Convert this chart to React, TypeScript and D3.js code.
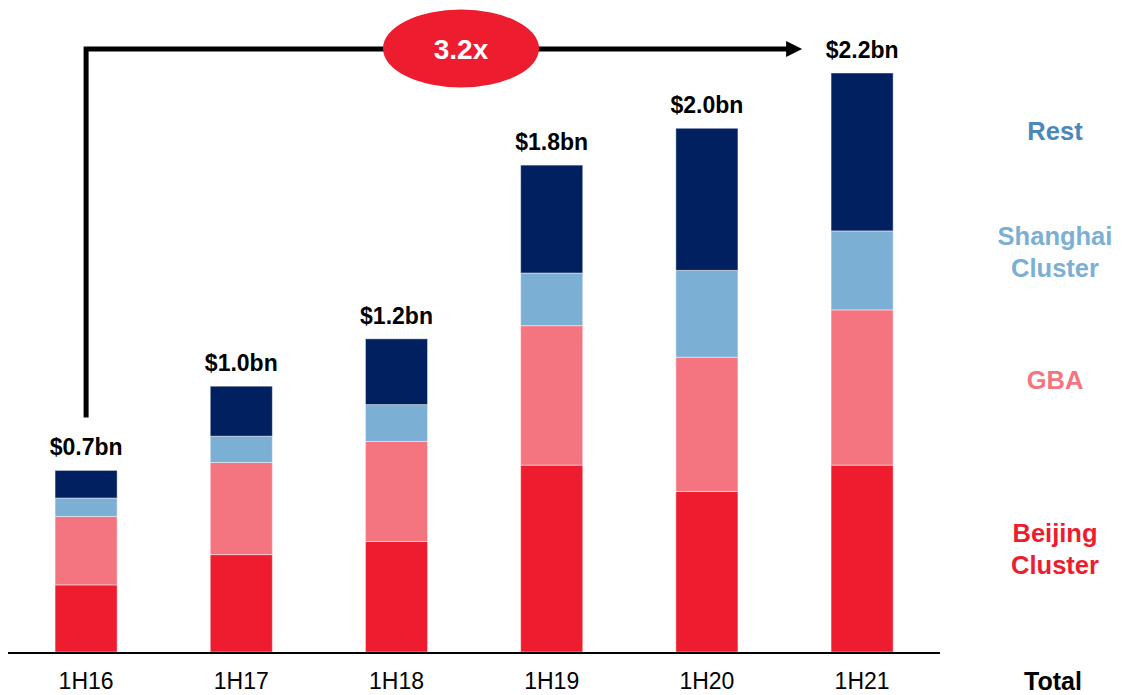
import React, { useEffect, useRef } from 'react';
import * as d3 from 'd3';

// half-year periods
const periods = ['1H16', '1H17', '1H18', '1H19', '1H20', '1H21'];

// segment values, $bn
const beijing = [0.255, 0.37, 0.42, 0.71, 0.61, 0.71];
const gba = [0.26, 0.35, 0.38, 0.53, 0.51, 0.59];
const shanghai = [0.07, 0.1, 0.14, 0.2, 0.33, 0.3];
const rest = [0.105, 0.19, 0.25, 0.41, 0.54, 0.6];

const totalLabels = ['$0.7bn', '$1.0bn', '$1.2bn', '$1.8bn', '$2.0bn', '$2.2bn'];
const growthLabel = '3.2x';

const seriesKeys = ['beijing', 'gba', 'shanghai', 'rest'];
const seriesColors = ['#ed1c2e', '#f47580', '#7bafd4', '#002060'];

const legendItems = [
    { lines: ['Rest'], color: '#4a88bb', y: 140 },
    { lines: ['Shanghai', 'Cluster'], color: '#7bafd4', y: 245 },
    { lines: ['GBA'], color: '#f47580', y: 389 },
    { lines: ['Beijing', 'Cluster'], color: '#ed1c2e', y: 542 },
];

const App = () => {
    const ref = useRef<SVGSVGElement>(null);

    useEffect(() => {
        const svg = d3.select(ref.current);
        svg.selectAll('*').remove();

        const font = '"Liberation Sans", Arial, sans-serif';
        const baseY = 652;

        const x = d3.scaleBand()
            .domain(periods)
            .range([8.5, 939.7])
            .paddingInner(0.6)
            .paddingOuter(0.3);

        const y = d3.scaleLinear()
            .domain([0, 2.2])
            .range([baseY, 73]);

        const table = periods.map((p, i) => ({
            period: p,
            beijing: beijing[i],
            gba: gba[i],
            shanghai: shanghai[i],
            rest: rest[i],
        }));

        const stacked = d3.stack().keys(seriesKeys)(table as any);

        // bars
        stacked.forEach((layer, li) => {
            svg.append('g')
                .selectAll('rect')
                .data(layer)
                .enter()
                .append('rect')
                .attr('x', (d: any) => x(d.data.period))
                .attr('y', d => y(d[1]))
                .attr('width', x.bandwidth())
                .attr('height', d => y(d[0]) - y(d[1]))
                .attr('fill', seriesColors[li])
                .attr('stroke', 'rgba(255,255,255,0.45)')
                .attr('stroke-width', 1);
        });

        // baseline
        svg.append('line')
            .attr('x1', 8)
            .attr('x2', 940)
            .attr('y1', baseY + 1)
            .attr('y2', baseY + 1)
            .attr('stroke', '#000')
            .attr('stroke-width', 2);

        // category labels
        svg.append('g')
            .selectAll('text')
            .data(periods)
            .enter()
            .append('text')
            .attr('x', d => x(d)! + x.bandwidth() / 2)
            .attr('y', 689)
            .attr('text-anchor', 'middle')
            .attr('font-family', font)
            .attr('font-size', 23)
            .attr('fill', '#000')
            .text(d => d);

        svg.append('text')
            .attr('x', 1053)
            .attr('y', 690)
            .attr('text-anchor', 'middle')
            .attr('font-family', font)
            .attr('font-size', 25)
            .attr('font-weight', 'bold')
            .text('Total');

        // totals above bars
        const lastLayer = stacked[stacked.length - 1];
        svg.append('g')
            .selectAll('text')
            .data(lastLayer)
            .enter()
            .append('text')
            .attr('x', (d: any) => x(d.data.period)! + x.bandwidth() / 2)
            .attr('y', d => y(d[1]) - 15)
            .attr('text-anchor', 'middle')
            .attr('font-family', font)
            .attr('font-size', 23)
            .attr('font-weight', 'bold')
            .text((d, i) => totalLabels[i]);

        // growth arrow
        const first = periods[0];
        const last = periods[periods.length - 1];
        const x0 = x(first)! + x.bandwidth() / 2;
        const x1 = x(last)! + x.bandwidth() / 2 - 60;
        const arrowY = y(2.2) - 24;
        const startY = y(d3.sum([beijing[0], gba[0], shanghai[0], rest[0]])) - 53;

        svg.append('path')
            .attr('d', `M${x0},${startY} L${x0},${arrowY} L${x1 - 14},${arrowY}`)
            .attr('fill', 'none')
            .attr('stroke', '#000')
            .attr('stroke-width', 5);

        svg.append('path')
            .attr('d', `M${x1 - 16},${arrowY - 8} L${x1},${arrowY} L${x1 - 16},${arrowY + 8} Z`)
            .attr('fill', '#000');

        svg.append('ellipse')
            .attr('cx', 461)
            .attr('cy', 48.5)
            .attr('rx', 78)
            .attr('ry', 39)
            .attr('fill', '#ed1c2e');

        svg.append('text')
            .attr('x', 461)
            .attr('y', 59)
            .attr('text-anchor', 'middle')
            .attr('font-family', font)
            .attr('font-size', 28)
            .attr('font-weight', 'bold')
            .attr('fill', '#fff')
            .text(growthLabel);

        // legend on the right
        legendItems.forEach(item => {
            const t = svg.append('text')
                .attr('x', 1055)
                .attr('y', item.y)
                .attr('text-anchor', 'middle')
                .attr('font-family', font)
                .attr('font-size', 25.5)
                .attr('font-weight', 'bold')
                .attr('fill', item.color);
            item.lines.forEach((line, i) => {
                t.append('tspan')
                    .attr('x', 1055)
                    .attr('dy', i === 0 ? 0 : 32)
                    .text(line);
            });
        });
    }, []);

    return (
        <svg
            ref={ref}
            width={1122}
            height={695}
            style={{ position: 'absolute', left: 0, top: 0, background: '#fff' }}
        />
    );
};

export default App;
